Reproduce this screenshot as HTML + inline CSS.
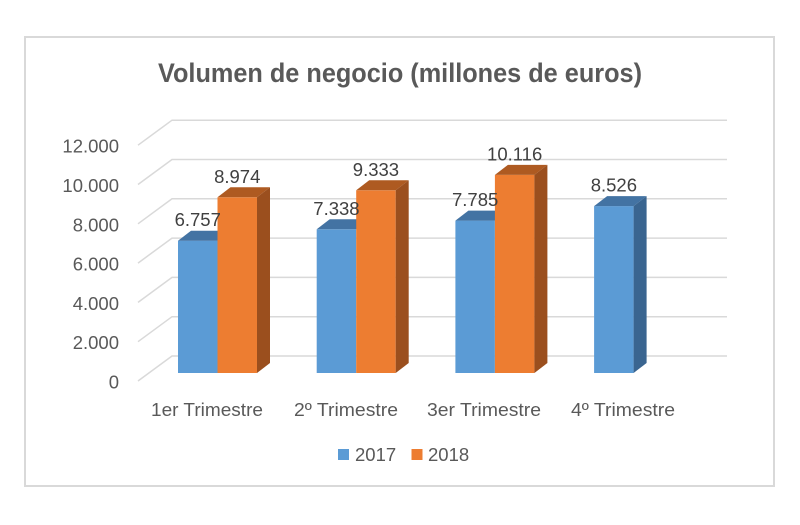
<!DOCTYPE html>
<html><head><meta charset="utf-8"><style>
html,body{margin:0;padding:0;background:#fff;}
svg{display:block;}
text{font-family:"Liberation Sans",sans-serif;}
</style></head><body>
<svg width="800" height="525" viewBox="0 0 800 525" xmlns="http://www.w3.org/2000/svg">
<rect x="0" y="0" width="800" height="525" fill="#fff"/>
<rect x="25" y="37" width="749" height="449" fill="#fff" stroke="#d9d9d9" stroke-width="2"/>
<text x="400" y="82" text-anchor="middle" font-size="27" font-weight="bold" fill="#595959" textLength="484" lengthAdjust="spacingAndGlyphs">Volumen de negocio (millones de euros)</text>
<g fill="none" stroke="#d9d9d9" stroke-width="1.5">
<polyline points="138,381 172,356 727,356"/>
<polyline points="138,341.7 172,316.7 727,316.7"/>
<polyline points="138,302.4 172,277.4 727,277.4"/>
<polyline points="138,263.1 172,238.1 727,238.1"/>
<polyline points="138,223.8 172,198.8 727,198.8"/>
<polyline points="138,184.5 172,159.5 727,159.5"/>
<polyline points="138,145.2 172,120.2 727,120.2"/>
</g>
<g font-size="18.5" fill="#595959" text-anchor="end">
<text x="119" y="388.5">0</text>
<text x="119" y="349.2">2.000</text>
<text x="119" y="309.9">4.000</text>
<text x="119" y="270.6">6.000</text>
<text x="119" y="231.3">8.000</text>
<text x="119" y="192">10.000</text>
<text x="119" y="152.7">12.000</text>
</g>
<!-- Group 1 -->
<g>
<rect x="178" y="240.7" width="39.5" height="132.3" fill="#5B9BD5"/>
<polygon points="178,240.7 191,230.7 230.5,230.7 217.5,240.7" fill="#4373A3"/>
<rect x="217.5" y="197.3" width="39.5" height="175.7" fill="#ED7D31"/>
<polygon points="217.5,197.3 230.5,187.3 270,187.3 257,197.3" fill="#AE5A21"/>
<polygon points="257,197.3 270,187.3 270,363 257,373" fill="#9B4F1E"/>
</g>
<!-- Group 2 -->
<g>
<rect x="316.7" y="229.3" width="39.5" height="143.7" fill="#5B9BD5"/>
<polygon points="316.7,229.3 329.7,219.3 369.2,219.3 356.2,229.3" fill="#4373A3"/>
<rect x="356.2" y="190.3" width="39.5" height="182.7" fill="#ED7D31"/>
<polygon points="356.2,190.3 369.2,180.3 408.7,180.3 395.7,190.3" fill="#AE5A21"/>
<polygon points="395.7,190.3 408.7,180.3 408.7,363 395.7,373" fill="#9B4F1E"/>
</g>
<!-- Group 3 -->
<g>
<rect x="455.4" y="220.6" width="39.5" height="152.4" fill="#5B9BD5"/>
<polygon points="455.4,220.6 468.4,210.6 507.9,210.6 494.9,220.6" fill="#4373A3"/>
<rect x="494.9" y="174.9" width="39.5" height="198.1" fill="#ED7D31"/>
<polygon points="494.9,174.9 507.9,164.9 547.4,164.9 534.4,174.9" fill="#AE5A21"/>
<polygon points="534.4,174.9 547.4,164.9 547.4,363 534.4,373" fill="#9B4F1E"/>
</g>
<!-- Group 4 -->
<g>
<rect x="594.1" y="206.1" width="39.5" height="166.9" fill="#5B9BD5"/>
<polygon points="594.1,206.1 607.1,196.1 646.6,196.1 633.6,206.1" fill="#4373A3"/>
<polygon points="633.6,206.1 646.6,196.1 646.6,363 633.6,373" fill="#3A6590"/>
</g>
<g font-size="18.5" fill="#404040" text-anchor="middle">
<text x="197.75" y="226.2">6.757</text>
<text x="237.25" y="182.8">8.974</text>
<text x="336.45" y="214.8">7.338</text>
<text x="375.95" y="175.8">9.333</text>
<text x="475.15" y="206.1">7.785</text>
<text x="514.65" y="160.4">10.116</text>
<text x="613.85" y="191.6">8.526</text>
</g>
<g font-size="18.5" fill="#595959" text-anchor="middle">
<text x="207" y="416" textLength="112" lengthAdjust="spacingAndGlyphs">1er Trimestre</text>
<text x="346" y="416" textLength="104" lengthAdjust="spacingAndGlyphs">2º Trimestre</text>
<text x="484" y="416" textLength="114" lengthAdjust="spacingAndGlyphs">3er Trimestre</text>
<text x="623" y="416" textLength="104" lengthAdjust="spacingAndGlyphs">4º Trimestre</text>
</g>
<rect x="338" y="449" width="11" height="11" fill="#5B9BD5"/>
<text x="355" y="461" font-size="18.5" fill="#595959">2017</text>
<rect x="411.5" y="449" width="11" height="11" fill="#ED7D31"/>
<text x="428" y="461" font-size="18.5" fill="#595959">2018</text>
</svg>
</body></html>
